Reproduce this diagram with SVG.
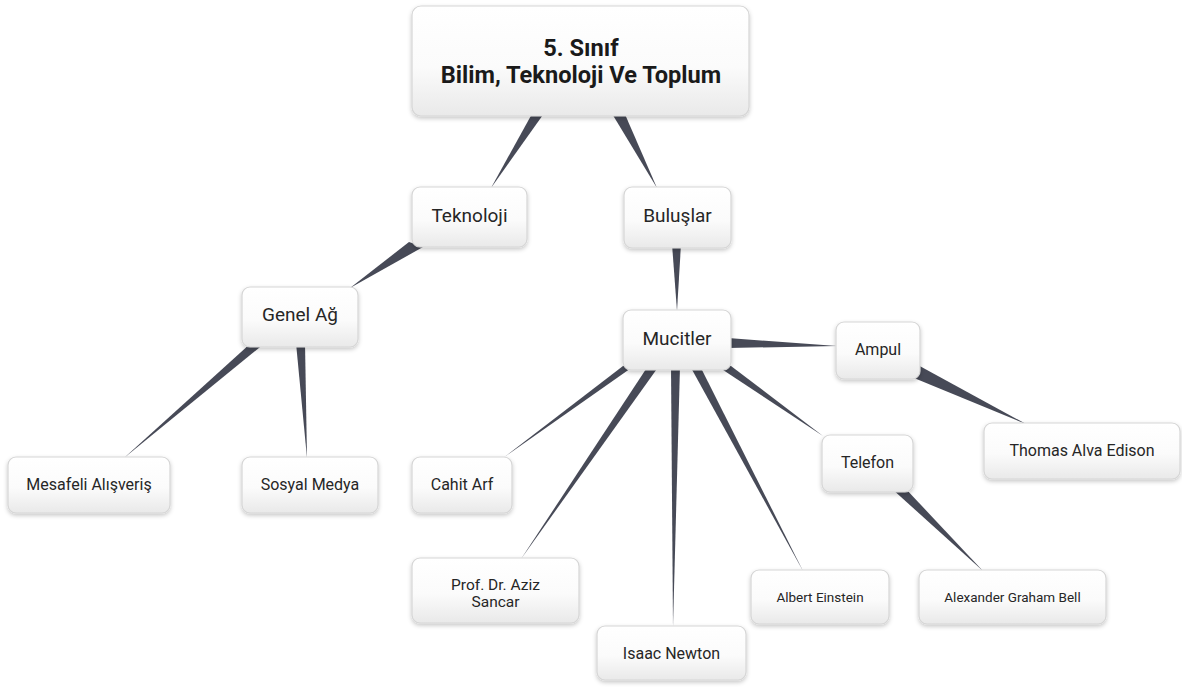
<svg xmlns="http://www.w3.org/2000/svg" width="1182" height="687" viewBox="0 0 1182 687">
<defs>
<linearGradient id="g" x1="0" y1="0" x2="0" y2="1">
<stop offset="0" stop-color="#ffffff"/>
<stop offset="0.55" stop-color="#fbfbfb"/>
<stop offset="1" stop-color="#e9e9e9"/>
</linearGradient>
<filter id="sh" x="-20%" y="-20%" width="140%" height="150%">
<feDropShadow dx="0" dy="2" stdDeviation="2" flood-color="#000" flood-opacity="0.22"/>
</filter>
</defs>
<style>
.n{fill:url(#g);stroke:#d6d6d6;stroke-width:1.2;filter:url(#sh)}
.t{font-family:Roboto,"Liberation Sans",sans-serif;fill:#262626;text-anchor:middle}
.r{font-size:23.6px;font-weight:700;fill:#1a1a1a}
.m{font-size:19px}
.s{font-size:16px}
.p{font-size:15.5px}
.x{font-size:13.5px}
.c{fill:#474a57}
</style>
<g id="connectors">
<polygon class="c" points="533,112 545,112 491,188"/>
<polygon class="c" points="611,112 624,112 657,188"/>
<polygon class="c" points="409,242 423,247 350,288"/>
<polygon class="c" points="672,244 681,244 677,311"/>
<polygon class="c" points="251,343 265,343 124,458"/>
<polygon class="c" points="296,343 305,343 307,458"/>
<polygon class="c" points="728,338 728,348 837,346"/>
<polygon class="c" points="916,364 914,378 1026,424"/>
<polygon class="c" points="717,366 731,366 823,436"/>
<polygon class="c" points="891,488 905,488 983,571"/>
<polygon class="c" points="690,366 700,366 803,571"/>
<polygon class="c" points="671,366 680,366 673,627"/>
<polygon class="c" points="648,366 659,366 521,559"/>
<polygon class="c" points="623,366 634,366 503,458"/>
</g>
<g id="root">
<rect class="n" x="412" y="6" width="337" height="110" rx="9"/>
<text class="t r" x="581" y="56">5. Sınıf</text>
<text class="t r" x="581" y="83">Bilim, Teknoloji Ve Toplum</text>
</g>
<g id="teknoloji">
<rect class="n" x="412" y="187" width="115" height="60" rx="8"/>
<text class="t m" x="469.5" y="221.5">Teknoloji</text>
</g>
<g id="buluslar">
<rect class="n" x="624" y="187" width="107" height="61" rx="8"/>
<text class="t m" x="677.5" y="221.5">Buluşlar</text>
</g>
<g id="genel-ag">
<rect class="n" x="242" y="287" width="116" height="60" rx="8"/>
<text class="t m" x="300" y="321">Genel Ağ</text>
</g>
<g id="mucitler">
<rect class="n" x="623" y="310" width="108" height="60" rx="8"/>
<text class="t m" x="677" y="344.5">Mucitler</text>
</g>
<g id="ampul">
<rect class="n" x="836" y="322" width="84" height="57" rx="8"/>
<text class="t s" x="878" y="355">Ampul</text>
</g>
<g id="telefon">
<rect class="n" x="822" y="435" width="91" height="57" rx="8"/>
<text class="t s" x="867.5" y="468">Telefon</text>
</g>
<g id="thomas">
<rect class="n" x="984" y="423" width="196" height="56" rx="8"/>
<text class="t s" x="1082" y="455.5">Thomas Alva Edison</text>
</g>
<g id="mesafeli">
<rect class="n" x="8" y="457" width="162" height="56" rx="8"/>
<text class="t s" x="89" y="489.5">Mesafeli Alışveriş</text>
</g>
<g id="sosyal">
<rect class="n" x="242" y="457" width="136" height="56" rx="8"/>
<text class="t s" x="310" y="489.5">Sosyal Medya</text>
</g>
<g id="cahit">
<rect class="n" x="412" y="457" width="100" height="56" rx="8"/>
<text class="t s" x="462" y="489.5">Cahit Arf</text>
</g>
<g id="sancar">
<rect class="n" x="412" y="558" width="167" height="65" rx="8"/>
<text class="t p" x="495.5" y="589.5">Prof. Dr. Aziz</text>
<text class="t p" x="495.5" y="607">Sancar</text>
</g>
<g id="newton">
<rect class="n" x="597" y="626" width="149" height="54" rx="8"/>
<text class="t s" x="671.5" y="658.5">Isaac Newton</text>
</g>
<g id="einstein">
<rect class="n" x="751" y="570" width="138" height="54" rx="8"/>
<text class="t x" x="820" y="601.5">Albert Einstein</text>
</g>
<g id="bell">
<rect class="n" x="919" y="570" width="187" height="54" rx="8"/>
<text class="t x" x="1012.5" y="601.5">Alexander Graham Bell</text>
</g>
</svg>
